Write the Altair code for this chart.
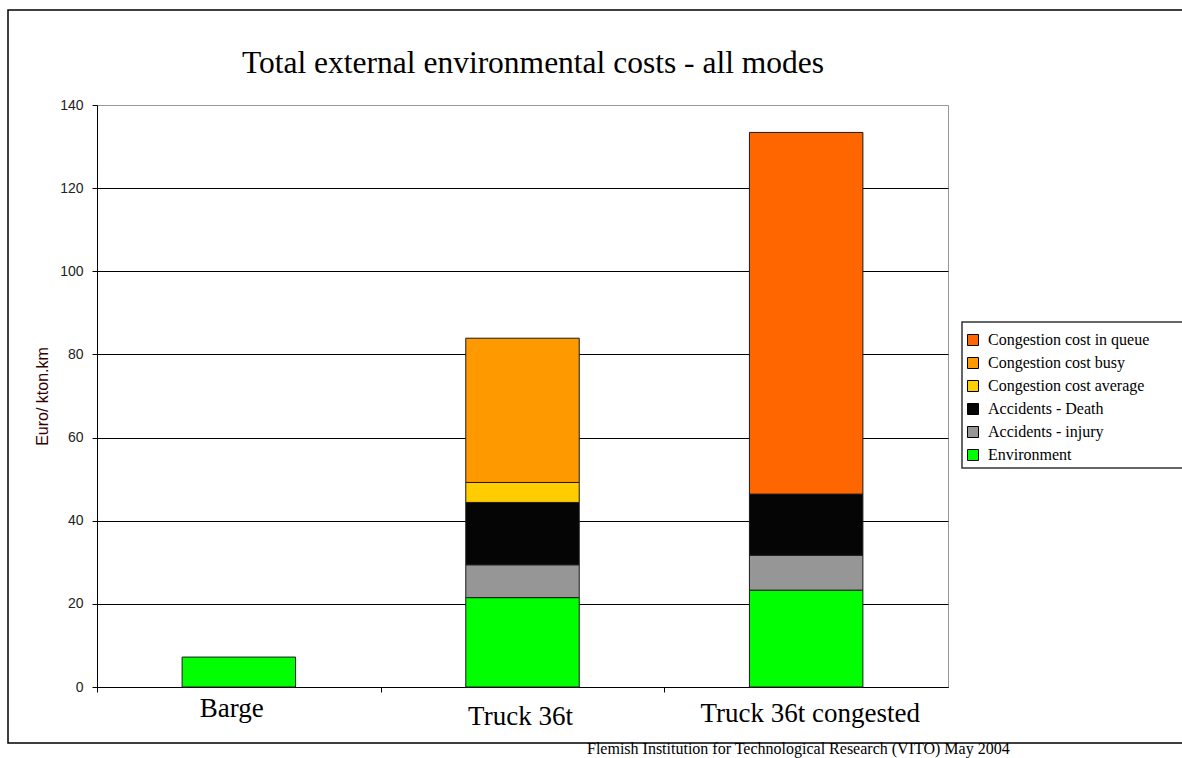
import altair as alt
import pandas as pd

# Transport modes on the x axis
modes = ["Barge", "Truck 36t", "Truck 36t congested"]

# Cost components in legend order (top of stack first) and their fills
components = [
    "Congestion cost in queue",
    "Congestion cost busy",
    "Congestion cost average",
    "Accidents - Death",
    "Accidents - injury",
    "Environment",
]
colors = ["#FF6600", "#FF9900", "#FFCC00", "#050505", "#969696", "#00FF00"]

# External costs per mode, Euro / kton.km
environment = [7.2, 21.5, 23.3]
accidents_injury = [0.0, 7.9, 8.4]
accidents_death = [0.0, 15.0, 14.7]
congestion_average = [0.0, 4.8, 0.0]
congestion_busy = [0.0, 34.7, 0.0]
congestion_queue = [0.0, 0.0, 87.0]

series = {
    "Environment": environment,
    "Accidents - injury": accidents_injury,
    "Accidents - Death": accidents_death,
    "Congestion cost average": congestion_average,
    "Congestion cost busy": congestion_busy,
    "Congestion cost in queue": congestion_queue,
}

rows = []
for comp, vals in series.items():
    rank = len(components) - 1 - components.index(comp)  # 0 = bottom of stack
    for mode, v in zip(modes, vals):
        if v > 0:
            rows.append({"mode": mode, "component": comp, "value": v, "stack": rank})
df = pd.DataFrame(rows)
one = pd.DataFrame({"k": [0]})

W, H = 851, 582
SERIF = "Liberation Serif"
SANS = "Liberation Sans"

x_enc = alt.X(
    "mode:N",
    sort=modes,
    scale=alt.Scale(paddingInner=0.6, paddingOuter=0.3),
    axis=alt.Axis(
        title=None,
        labels=False,
        domainColor="black",
        domainWidth=1,
        tickColor="black",
        tickSize=5,
        bandPosition=0,
        tickOffset=-85,
        grid=False,
    ),
)

bars = (
    alt.Chart(df)
    .mark_bar(stroke="#1a1a1a", strokeWidth=1)
    .encode(
        x=x_enc,
        y=alt.Y(
            "value:Q",
            stack="zero",
            scale=alt.Scale(domain=[0, 140], nice=False),
            axis=alt.Axis(
                title="Euro/ kton.km",
                values=list(range(0, 141, 20)),
                grid=True,
                gridColor={
                    "condition": {"test": "datum.value === 140", "value": "#999999"},
                    "value": "#000000",
                },
                gridWidth=1,
                domainColor="black",
                tickColor="black",
                tickSize=5,
                labelPadding=9,
                labelFont=SANS,
                labelFontSize=14,
                labelColor="#222222",
                titleFont=SANS,
                titleFontSize=16,
                titleFontWeight="normal",
                titleColor="#330000",
                titleAngle=270,
                titleAlign="center",
                titleBaseline="middle",
                titleX=-55,
                titleY=291,
            ),
        ),
        color=alt.Color(
            "component:N",
            scale=alt.Scale(domain=components, range=colors),
            legend=alt.Legend(
                title=None,
                orient="none",
                legendX=868,
                legendY=227,
                symbolType="square",
                symbolSize=121,
                symbolStrokeColor="black",
                symbolStrokeWidth=1,
                labelFont=SERIF,
                labelFontSize=16,
                labelColor="black",
                labelOffset=7,
                labelLimit=400,
                rowPadding=7,
                padding=0,
            ),
        ),
        order=alt.Order("stack:Q", sort="ascending"),
    )
)

# Outer frame and legend box
outer_frame = (
    alt.Chart(one)
    .mark_rect(fillOpacity=0, stroke="black", strokeWidth=1.5)
    .encode(x=alt.value(-89), x2=alt.value(1120), y=alt.value(-95), y2=alt.value(638))
)
legend_box = (
    alt.Chart(one)
    .mark_rect(fillOpacity=0, stroke="#333333", strokeWidth=1.5)
    .encode(x=alt.value(865), x2=alt.value(1120), y=alt.value(217), y2=alt.value(363))
)

title = (
    alt.Chart(one)
    .mark_text(
        text="Total external environmental costs - all modes",
        font=SERIF,
        fontSize=31.5,
        align="center",
        baseline="alphabetic",
        color="black",
    )
    .encode(x=alt.value(436), y=alt.value(-32))
)

footnote = (
    alt.Chart(one)
    .mark_text(
        text="Flemish Institution for Technological Research (VITO) May 2004",
        font=SERIF,
        fontSize=16,
        align="left",
        baseline="alphabetic",
        color="black",
    )
    .encode(x=alt.value(490), y=alt.value(649))
)

# Category labels under the axis, each with its own baseline and nudge
label_place = {
    "Barge": (-7, H + 30),
    "Truck 36t": (-2, H + 38),
    "Truck 36t congested": (4, H + 35),
}
cat_labels = [
    alt.Chart(pd.DataFrame({"mode": [m]}))
    .mark_text(
        font=SERIF, fontSize=27, align="center", baseline="alphabetic",
        color="black", dx=label_place[m][0],
    )
    .encode(x=x_enc, y=alt.value(label_place[m][1]), text="mode:N")
    for m in modes
]

chart = (
    alt.layer(outer_frame, legend_box, bars, title, footnote, *cat_labels)
    .properties(
        width=W,
        height=H,
        autosize=alt.AutoSizeParams(type="none"),
        padding={"left": 97, "top": 105, "right": 234, "bottom": 71},
        background="white",
    )
    .configure_view(stroke="#999999", strokeWidth=1)
)

chart.save("out.html", embed_options={"renderer": "svg", "actions": False})
